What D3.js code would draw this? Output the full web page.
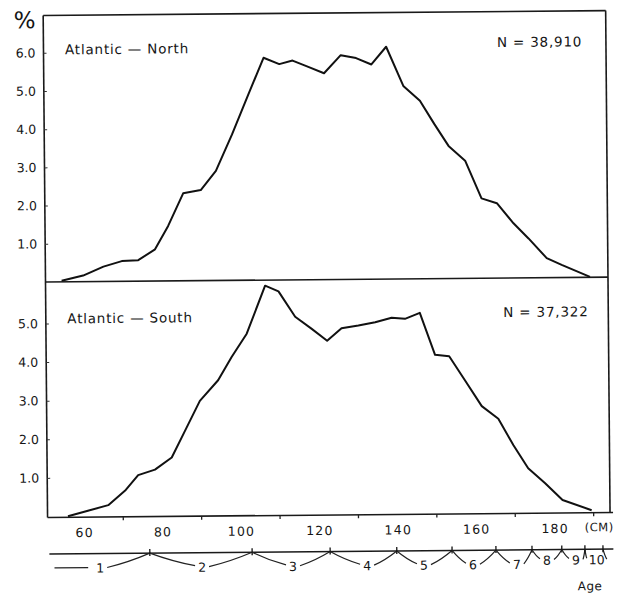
<!DOCTYPE html>
<html>
<head>
<meta charset="utf-8">
<script src="https://cdn.jsdelivr.net/npm/d3@7"></script>
<style>
  body { margin: 0; background: #fff; }
  text { font-family: "DejaVu Sans", sans-serif; fill: #151515; }
</style>
</head>
<body>
<svg id="chart" width="619" height="594"></svg>
<script>
// length classes (cm) and % frequency
const northLength = [54.8, 60.3, 65.5, 70.2, 74.4, 78.7, 82.1, 86.0, 90.5, 94.4, 98.6, 102.8, 106.8, 110.8, 114.2, 118.2, 122.2, 126.5, 130.4, 134.3, 138.1, 142.4, 146.6, 150.2, 153.8, 158.0, 162.1, 166.0, 170.2, 174.0, 178.6, 182.4, 189.6];
const northPct = [0.03, 0.16, 0.39, 0.53, 0.55, 0.83, 1.44, 2.29, 2.37, 2.87, 3.82, 4.85, 5.82, 5.65, 5.74, 5.57, 5.40, 5.87, 5.79, 5.62, 6.08, 5.05, 4.66, 4.05, 3.47, 3.08, 2.09, 1.96, 1.43, 1.03, 0.51, 0.33, 0.01];

const southLength = [55.9, 61.0, 66.2, 70.7, 73.9, 78.2, 82.5, 86.0, 89.8, 94.5, 98.0, 101.9, 106.7, 110.1, 114.3, 118.5, 122.4, 126.1, 130.4, 134.7, 138.9, 142.3, 146.1, 149.9, 153.5, 157.5, 161.7, 165.9, 169.7, 173.4, 177.7, 182.1, 189.5];
const southPct = [0.0, 0.14, 0.28, 0.67, 1.05, 1.19, 1.50, 2.20, 2.96, 3.49, 4.09, 4.69, 5.93, 5.78, 5.12, 4.80, 4.49, 4.81, 4.88, 4.96, 5.07, 5.04, 5.19, 4.10, 4.06, 3.43, 2.76, 2.43, 1.74, 1.14, 0.75, 0.31, 0.04];

const xTickLabels = [60, 80, 100, 120, 140, 160, 180];
const xMinorTicks = [70, 90, 110, 130, 150, 170, 190];
const yTicksNorth = [1, 2, 3, 4, 5, 6];
const yTicksSouth = [1, 2, 3, 4, 5];

const ageLabels = ['1', '2', '3', '4', '5', '6', '7', '8', '9', '10'];
const ageLabelAt = [64.0, 90.0, 113.2, 132.1, 146.6, 159.1, 170.3, 178.0, 185.4, 190.7];
const ageUpperBound = [76.7, 102.8, 122.7, 139.7, 153.8, 165.0, 174.2, 181.8, 187.7, 192.3];

const panels = [
  { name: 'Atlantic \u2014 North', n: 'N = 38,910', len: northLength, pct: northPct, ticks: yTicksNorth },
  { name: 'Atlantic \u2014 South', n: 'N = 37,322', len: southLength, pct: southPct, ticks: yTicksSouth }
];

const left = 45.5, right = 608;
const x = d3.scaleLinear().domain([60, 180]).range([82, 82 + 3.92 * 120]);
const yN = d3.scaleLinear().domain([0, 7]).range([282, 282 - 7 * 38.2]);
const yS = d3.scaleLinear().domain([0, 6]).range([516.5, 516.5 - 6 * 38.6]);
const yScales = [yN, yS];

const svg = d3.select('#chart');
// the scan is tilted by about half a degree
const g = svg.append('g').attr('transform', 'rotate(-0.5, 45, 282)');

// frame
const frame = g.append('g').attr('stroke', '#1a1a1a').attr('stroke-width', 1.6).attr('fill', 'none');
frame.append('line').attr('x1', left).attr('x2', left).attr('y1', 15.5).attr('y2', 517.5);
frame.append('line').attr('x1', left).attr('x2', right).attr('y1', 15.5).attr('y2', 15.5);
frame.append('line').attr('x1', right).attr('x2', right).attr('y1', 15.5).attr('y2', 517.5);
frame.append('line').attr('x1', left).attr('x2', right).attr('y1', yN(0)).attr('y2', yN(0));
frame.append('line').attr('x1', left).attr('x2', right + 3).attr('y1', 517.5).attr('y2', 517.5);

const line = (y) => d3.line().x((d) => x(d[0])).y((d) => y(d[1]));

panels.forEach((p, i) => {
  const y = yScales[i];

  const axis = g.append('g')
    .attr('transform', `translate(${left},0)`)
    .call(d3.axisLeft(y).tickValues(p.ticks).tickFormat(d3.format('.1f')).tickSize(-3).tickPadding(8));
  axis.select('.domain').remove();
  axis.selectAll('line').attr('stroke', '#333');
  axis.selectAll('text').attr('font-size', 12.5).attr('font-family', '"DejaVu Sans", sans-serif').attr('fill', '#151515');

  g.append('path')
    .datum(d3.zip(p.len, p.pct))
    .attr('d', line(y))
    .attr('fill', 'none')
    .attr('stroke', '#111')
    .attr('stroke-width', 2)
    .attr('stroke-linejoin', 'round');

  g.append('text')
    .attr('x', 67).attr('y', i === 0 ? 54.5 : 323.5)
    .attr('font-size', 13.5).attr('letter-spacing', 0.8)
    .text(p.name);

  g.append('text')
    .attr('x', i === 0 ? 499 : 503).attr('y', i === 0 ? 51 : 321)
    .attr('font-size', 13.5).attr('letter-spacing', 0.8)
    .text(p.n);
});

g.append('text').attr('x', 27).attr('y', 28).attr('text-anchor', 'middle')
  .attr('font-size', 23).text('%');

// x axis
const xAxis = g.append('g')
  .attr('transform', 'translate(0,517.5)')
  .call(d3.axisBottom(x).tickValues(xTickLabels).tickSize(0).tickPadding(11));
xAxis.select('.domain').remove();
xAxis.selectAll('text').attr('font-size', 12.5).attr('letter-spacing', 1.2)
  .attr('font-family', '"DejaVu Sans", sans-serif').attr('fill', '#151515');

g.selectAll('.minor')
  .data(xMinorTicks)
  .join('line')
  .attr('x1', (d) => x(d)).attr('x2', (d) => x(d))
  .attr('y1', 517.5).attr('y2', 521)
  .attr('stroke', '#222').attr('stroke-width', 1.3);

g.append('text').attr('x', 597).attr('y', 536).attr('text-anchor', 'middle')
  .attr('font-size', 11.5).attr('letter-spacing', 0.5).text('(CM)');

// age scale
const ageY = 554;
const age = g.append('g');
age.append('line').attr('x1', 47).attr('x2', 611).attr('y1', ageY).attr('y2', ageY)
  .attr('stroke', '#1a1a1a').attr('stroke-width', 1.5);

const curve = (x0, y0, x1, y1) => {
  const cx = (x0 + x1) / 2, cy = (y0 + y1) / 2 + 2;
  return `M${x0},${y0}Q${cx},${cy} ${x1},${y1}`;
};

ageLabels.forEach((label, i) => {
  const lx = x(ageLabelAt[i]);
  const xb = x(ageUpperBound[i]);
  const xa = i === 0 ? null : x(ageUpperBound[i - 1]);
  const narrow = xa !== null && xb - xa < 32;
  const ly = narrow ? 564 : 568;
  const hw = label.length > 1 ? 8 : 5;

  age.append('text')
    .attr('x', lx).attr('y', ly + 5)
    .attr('text-anchor', 'middle')
    .attr('font-size', 12.5)
    .text(label);

  const stroke = (sel) => sel.attr('fill', 'none').attr('stroke', '#222').attr('stroke-width', 1.2);

  if (xa === null) {
    age.append('line').attr('x1', 52).attr('x2', lx - 12).attr('y1', ly).attr('y2', ly)
      .attr('stroke', '#222').attr('stroke-width', 1.2);
  } else {
    age.append('path').attr('d', curve(xa, ageY, lx - hw - 2, ly - 1)).call(stroke);
  }
  age.append('path').attr('d', curve(lx + hw + 2, ly, xb, ageY)).call(stroke);

  age.append('line').attr('x1', xb).attr('x2', xb).attr('y1', ageY - 4).attr('y2', ageY + 3)
    .attr('stroke', '#111').attr('stroke-width', 1.3);
});

g.append('text').attr('x', 575).attr('y', 595).attr('font-size', 12).attr('letter-spacing', 0.5).text('Age');
</script>
</body>
</html>
